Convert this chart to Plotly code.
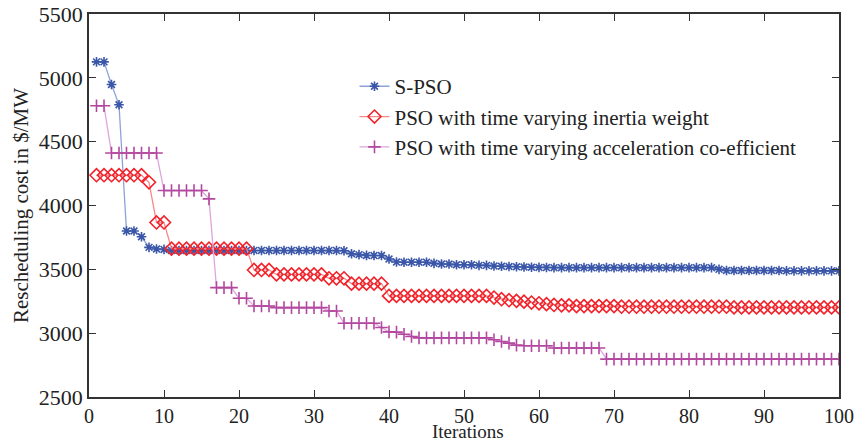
import plotly.graph_objects as go

iterations = list(range(1, 101))

s_pso = ([5125, 5125, 4948, 4789, 3800, 3800, 3755, 3672, 3659, 3656]
         + [3648] * 23
         + [3645, 3622, 3615, 3609, 3608, 3608, 3581, 3557, 3556, 3556,
            3556, 3556, 3547, 3542, 3542, 3536, 3536, 3536, 3531, 3531,
            3526, 3524, 3522, 3520, 3518, 3516, 3515, 3514, 3513]
         + [3513] * 21
         + [3500]
         + [3491] * 8
         + [3488] * 8)

pso_tviw = ([4237] * 7 + [4182, 3867, 3867]
            + [3662] * 11
            + [3495] * 3
            + [3460] * 7
            + [3430] * 3
            + [3388] * 5
            + [3292] * 14
            + [3279, 3266, 3258, 3253, 3247, 3240, 3234, 3227, 3221, 3218, 3218]
            + [3212] * 6
            + [3207] * 15
            + [3202] * 15)

pso_tvac = ([4781] * 2 + [4411] * 7 + [4117] * 6 + [4052]
            + [3357] * 3 + [3273] * 2 + [3213] * 3 + [3200] * 7
            + [3174] * 2 + [3078] * 5
            + [3044, 3010, 3008, 2992, 2974]
            + [2963] * 10
            + [2948, 2935, 2922, 2906]
            + [2902] * 4
            + [2884] * 7
            + [2797] * 32)

x_ticks = list(range(0, 101, 10))
y_ticks = list(range(2500, 5501, 500))

font_family = "Liberation Serif, Times New Roman, serif"
TXT = "#222222"

fig = go.Figure()
fig.add_trace(go.Scatter(
    x=iterations, y=s_pso, mode="lines+markers", name="S-PSO",
    line=dict(color="#8FA2D8", width=1.3),
    marker=dict(symbol="asterisk-open", size=8, color="#3A56A8",
                line=dict(color="#3A56A8", width=1.6)),
))
fig.add_trace(go.Scatter(
    x=iterations, y=pso_tviw, mode="lines+markers",
    name="PSO with time varying inertia weight",
    line=dict(color="#F58A8A", width=1.3),
    marker=dict(symbol="diamond-open", size=10, color="#F2222A",
                line=dict(color="#F2222A", width=1.6)),
))
fig.add_trace(go.Scatter(
    x=iterations, y=pso_tvac, mode="lines+markers",
    name="PSO with time varying acceleration co-efficient",
    line=dict(color="#DDA6DA", width=1.3),
    marker=dict(symbol="cross-thin-open", size=9, color="#B3479F",
                line=dict(color="#B3479F", width=1.6)),
))

axis_common = dict(
    showgrid=False, zeroline=False, showline=True, linecolor="#333333",
    linewidth=1.5, mirror="ticks", ticks="inside", ticklen=7,
    tickcolor="#333333", tickwidth=1.2, automargin=False,
)

fig.update_xaxes(range=[0, 100], tickvals=x_ticks,
                 tickfont=dict(family=font_family, size=20, color=TXT),
                 **axis_common)
fig.update_yaxes(range=[2500, 5500], tickvals=y_ticks,
                 tickfont=dict(family=font_family, size=22, color=TXT),
                 title=dict(text="Rescheduling cost in $/MW", standoff=4,
                            font=dict(family=font_family, size=21, color=TXT)),
                 **axis_common)

fig.add_annotation(
    text="Iterations", xref="paper", yref="paper", x=0.505, y=-0.1201,
    xanchor="center", yanchor="bottom", showarrow=False, borderpad=0,
    font=dict(family=font_family, size=19, color=TXT),
)

fig.update_layout(
    width=857, height=443,
    margin=dict(l=89, r=18, t=14, b=46),
    paper_bgcolor="white", plot_bgcolor="white",
    showlegend=True,
    legend=dict(x=0.354, y=0.864, xanchor="left", yanchor="top",
                bgcolor="rgba(0,0,0,0)", borderwidth=0,
                font=dict(family=font_family, size=21, color=TXT)),
)

# remove the browser's default 8px body margin so the figure fills the window
fig.write_html("out.html",
               config={"displayModeBar": False},
               post_script="document.body.style.margin='0px';")
